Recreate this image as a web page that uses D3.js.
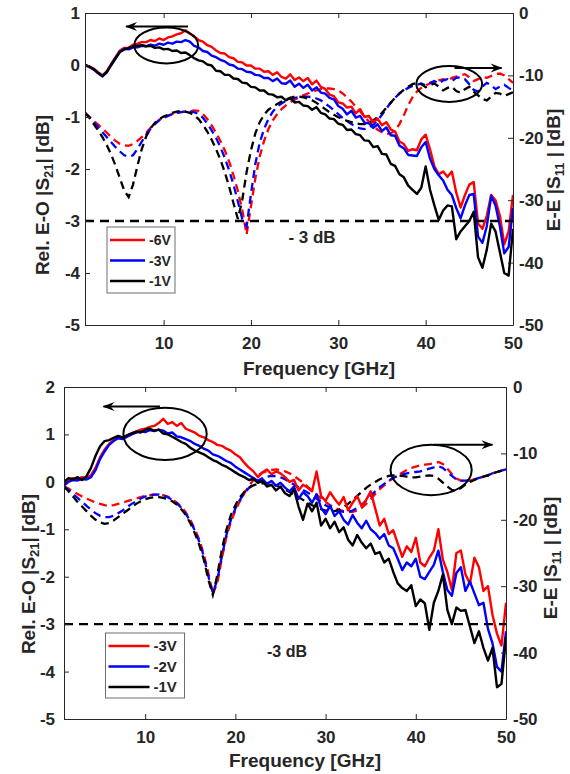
<!DOCTYPE html>
<html>
<head>
<meta charset="utf-8">
<script src="https://cdn.jsdelivr.net/npm/d3@7"></script>
<style>
  body { margin: 0; background: #fff; }
  text { font-family: "Liberation Sans", Arial, sans-serif; font-weight: bold; fill: #262626; }
</style>
</head>
<body>
<div id="chart"></div>
<script>
// frequency grid, GHz
const freq = d3.range(1, 50.001, 0.5);

const xTicks = [10, 20, 30, 40, 50];
const topLeftTicks = [1, 0, -1, -2, -3, -4, -5];
const botLeftTicks = [2, 1, 0, -1, -2, -3, -4, -5];
const rightTicks = [0, -10, -20, -30, -40, -50];

const topLegend = ["-6V", "-3V", "-1V"];
const botLegend = ["-3V", "-2V", "-1V"];
const colors = ["#ff0000", "#0000ff", "#000000"];

// ---- top panel, relative E-O |S21| (dB), left axis
const topS21Red = [
  0.00, -0.03, -0.07, -0.14, -0.20, -0.12, 0.02, 0.15, 0.28, 0.33,
  0.33, 0.39, 0.41, 0.44, 0.44, 0.48, 0.46, 0.51, 0.48, 0.53,
  0.55, 0.59, 0.61, 0.67, 0.60, 0.55, 0.48, 0.45, 0.38, 0.35,
  0.28, 0.23, 0.22, 0.15, 0.13, 0.06, 0.05, -0.01, -0.01, -0.07,
  -0.07, -0.13, -0.12, -0.19, -0.14, -0.23, -0.26, -0.18, -0.29, -0.24,
  -0.31, -0.25, -0.37, -0.30, -0.42, -0.46, -0.57, -0.60, -0.72, -0.74,
  -0.82, -0.80, -0.93, -0.85, -1.00, -0.98, -1.10, -1.03, -1.16, -1.10,
  -1.24, -1.28, -1.47, -1.52, -1.65, -1.62, -1.64, -1.43, -1.34, -1.62,
  -1.95, -2.10, -2.05, -2.15, -2.05, -2.45, -2.74, -2.50, -2.30, -2.25,
  -3.05, -3.15, -2.90, -2.50, -2.60, -2.90, -3.45, -3.20, -2.50
];
const topS21Blue = [
  0.00, -0.04, -0.09, -0.16, -0.22, -0.14, 0.00, 0.13, 0.26, 0.31,
  0.30, 0.34, 0.34, 0.37, 0.36, 0.39, 0.37, 0.41, 0.39, 0.43,
  0.41, 0.45, 0.44, 0.48, 0.45, 0.37, 0.34, 0.27, 0.25, 0.18,
  0.15, 0.10, 0.07, 0.01, -0.01, -0.07, -0.08, -0.13, -0.14, -0.19,
  -0.20, -0.25, -0.25, -0.31, -0.26, -0.35, -0.36, -0.30, -0.42, -0.36,
  -0.44, -0.38, -0.49, -0.43, -0.53, -0.55, -0.63, -0.66, -0.79, -0.84,
  -0.95, -0.88, -1.01, -0.98, -1.11, -1.12, -1.21, -1.14, -1.27, -1.20,
  -1.35, -1.36, -1.55, -1.60, -1.73, -1.74, -1.75, -1.58, -1.48, -1.80,
  -2.00, -2.12, -2.22, -2.40, -2.50, -2.75, -2.95, -2.70, -2.50, -2.48,
  -3.30, -3.42, -3.10, -2.52, -2.70, -3.10, -3.62, -3.50, -2.75
];
const topS21Black = [
  0.00, -0.03, -0.08, -0.15, -0.21, -0.13, 0.00, 0.13, 0.25, 0.30,
  0.33, 0.36, 0.37, 0.38, 0.36, 0.37, 0.33, 0.34, 0.30, 0.31,
  0.27, 0.28, 0.23, 0.24, 0.19, 0.13, 0.09, 0.07, 0.01, -0.01,
  -0.11, -0.12, -0.19, -0.19, -0.26, -0.27, -0.34, -0.35, -0.42, -0.43,
  -0.49, -0.49, -0.56, -0.57, -0.62, -0.61, -0.68, -0.63, -0.72, -0.71,
  -0.78, -0.79, -0.86, -0.81, -0.92, -0.95, -1.03, -1.04, -1.13, -1.15,
  -1.25, -1.24, -1.33, -1.35, -1.45, -1.46, -1.58, -1.56, -1.71, -1.72,
  -1.90, -1.94, -2.10, -2.16, -2.32, -2.40, -2.48, -2.36, -1.95, -2.40,
  -2.70, -2.98, -2.80, -2.70, -2.72, -3.35, -3.20, -3.10, -3.00, -2.82,
  -3.70, -3.90, -3.55, -3.05, -3.20, -3.60, -4.00, -4.05, -3.15
];

// ---- top panel, E-E |S11| (dB), right axis
const topS11Red = [
  -16.0, -16.6, -17.3, -17.9, -18.5, -19.2, -19.9, -20.5, -21.0, -21.2,
  -21.3, -21.0, -20.5, -19.9, -19.2, -18.4, -17.7, -17.1, -16.7, -16.4,
  -16.2, -16.0, -15.9, -15.8, -15.7, -15.6, -15.7, -16.2, -17.0, -18.0,
  -19.2, -20.5, -22.0, -23.8, -26.0, -28.5, -31.5, -35.5, -31.0, -26.5,
  -23.0, -20.5, -18.6, -17.2, -16.2, -15.4, -14.8, -14.3, -13.9, -13.5,
  -13.2, -12.9, -12.6, -12.4, -12.2, -12.1, -12.1, -12.2, -12.4, -12.9,
  -13.5, -14.2, -15.0, -15.8, -16.6, -17.4, -18.1, -18.7, -19.1, -19.4,
  -19.3, -18.8, -17.8, -16.4, -14.8, -13.5, -12.6, -12.0, -11.6, -11.3,
  -11.0, -10.8, -10.6, -10.9, -10.4, -10.2, -10.0, -9.8, -10.3, -10.9,
  -10.6, -10.2, -10.4, -10.1, -9.8, -9.7, -10.0, -10.6, -11.2
];
const topS11Blue = [
  -16.0, -16.7, -17.5, -18.3, -19.1, -19.9, -20.7, -21.5, -22.2, -22.8,
  -23.0, -22.8, -21.8, -20.6, -19.5, -18.6, -17.8, -17.2, -16.8, -16.5,
  -16.2, -16.0, -15.9, -15.8, -15.8, -15.9, -16.2, -16.8, -17.7, -18.8,
  -20.0, -21.5, -23.2, -25.2, -27.5, -30.2, -33.0, -34.2, -29.0, -24.2,
  -20.8, -18.6, -17.0, -15.8, -15.0, -14.5, -14.1, -13.8, -13.6, -13.5,
  -13.4, -13.4, -13.5, -13.7, -14.0, -14.5, -15.0, -15.6, -16.2, -16.8,
  -17.3, -17.8, -18.2, -18.5, -18.6, -18.4, -17.9, -17.2, -16.3, -15.3,
  -14.4, -13.6, -12.9, -12.4, -12.0, -11.7, -11.5, -11.3, -11.6, -11.2,
  -10.9, -11.3, -10.8, -10.6, -10.9, -10.4, -10.3, -10.6, -11.4, -12.3,
  -12.6, -11.8, -11.2, -11.6, -12.2, -11.8, -11.5, -12.0, -12.4
];
const topS11Black = [
  -16.0, -16.8, -17.8, -18.8, -19.9, -21.2, -22.7, -24.5, -26.5, -28.5,
  -29.5, -27.5, -24.5, -21.8, -19.8, -18.5, -17.6, -17.0, -16.6, -16.3,
  -16.0, -15.8, -15.7, -15.8, -16.0, -16.4, -17.0, -17.9, -19.0, -20.3,
  -21.8, -23.5, -25.5, -27.8, -30.5, -33.0, -30.0, -25.5, -22.0, -19.3,
  -17.5, -16.3, -15.5, -15.0, -14.6, -14.2, -13.9, -13.6, -13.4, -13.4,
  -13.5, -13.7, -14.0, -14.4, -14.9, -15.4, -15.9, -16.3, -16.7, -17.0,
  -17.3, -17.5, -17.7, -17.8, -17.8, -17.6, -17.2, -16.7, -16.0, -15.2,
  -14.4, -13.6, -12.9, -12.3, -11.8, -11.4, -11.2, -11.4, -11.9, -11.6,
  -11.3, -11.8, -12.4, -12.0, -11.8, -12.5, -12.8, -12.2, -11.8, -12.6,
  -13.2, -13.8, -14.0, -13.4, -12.8, -12.9, -13.3, -13.0, -12.7
];

// ---- bottom panel, relative E-O |S21| (dB), left axis
const botS21Red = [
  -0.02, 0.05, 0.08, 0.06, 0.10, 0.08, 0.14, 0.30, 0.52, 0.68,
  0.80, 0.88, 0.94, 0.92, 0.98, 1.02, 1.06, 1.10, 1.12, 1.16,
  1.18, 1.24, 1.33, 1.22, 1.26, 1.18, 1.24, 1.12, 1.08, 1.04,
  0.97, 0.94, 0.88, 0.84, 0.78, 0.76, 0.70, 0.66, 0.58, 0.52,
  0.40, 0.30, 0.22, 0.10, 0.20, 0.26, 0.16, 0.22, 0.18, 0.10,
  0.00, 0.04, -0.18, -0.06, -0.12, -0.20, 0.22, -0.30, -0.40, -0.22,
  -0.36, -0.48, -0.32, -0.60, -0.44, -0.30, -0.52, -0.38, -0.20, -0.56,
  -0.92, -0.78, -1.10, -1.02, -1.30, -1.58, -1.36, -1.48, -1.18, -1.70,
  -1.78, -1.60, -1.45, -1.00, -1.64, -1.90, -2.28, -1.50, -1.45, -1.95,
  -2.15, -1.60, -1.80, -2.30, -2.20, -2.80, -3.20, -3.45, -2.55
];
const botS21Blue = [
  -0.08, 0.00, 0.04, 0.03, 0.06, 0.05, 0.10, 0.25, 0.48, 0.64,
  0.78, 0.86, 0.92, 0.90, 0.95, 1.00, 1.04, 1.06, 1.05, 1.09,
  1.07, 1.10, 1.08, 1.02, 1.04, 0.96, 0.94, 0.90, 0.86, 0.80,
  0.76, 0.70, 0.66, 0.58, 0.55, 0.50, 0.44, 0.40, 0.32, 0.26,
  0.20, 0.14, 0.08, 0.02, 0.06, -0.04, 0.02, -0.08, -0.02, -0.12,
  -0.20, -0.10, -0.36, -0.22, -0.30, -0.44, -0.26, -0.55, -0.68, -0.50,
  -0.72, -0.62, -0.80, -0.90, -0.70, -0.86, -0.98, -0.82, -1.00, -1.08,
  -1.20, -1.10, -1.34, -1.40, -1.62, -1.86, -1.70, -1.78, -1.62, -2.00,
  -2.05, -1.90, -1.75, -1.45, -1.90, -2.28, -2.40, -1.92, -1.80, -2.30,
  -2.10, -2.35, -2.60, -2.55, -3.10, -3.40, -3.90, -4.00, -3.15
];
const botS21Black = [
  0.00, 0.08, 0.05, 0.10, 0.04, 0.12, 0.30, 0.55, 0.75, 0.86,
  0.88, 0.93, 0.97, 0.94, 0.98, 1.02, 1.06, 1.04, 1.10, 1.12,
  1.08, 1.10, 1.02, 1.00, 0.95, 0.90, 0.84, 0.80, 0.72, 0.66,
  0.62, 0.58, 0.52, 0.46, 0.42, 0.36, 0.32, 0.26, 0.20, 0.14,
  0.10, 0.04, 0.06, -0.02, 0.02, -0.10, -0.06, -0.18, -0.10, -0.24,
  -0.30, -0.16, -0.52, -0.80, -0.46, -0.62, -0.44, -0.92, -0.78, -0.98,
  -0.84, -1.06, -0.96, -1.22, -1.34, -1.12, -1.28, -1.40, -1.30, -1.52,
  -1.48, -1.70, -1.62, -1.90, -2.14, -2.24, -2.30, -2.18, -2.62, -2.48,
  -2.56, -3.12, -2.55, -2.30, -1.95, -2.70, -3.00, -2.65, -2.72, -2.70,
  -3.05, -3.40, -3.15, -3.50, -3.77, -3.50, -4.33, -4.26, -3.28
];

// ---- bottom panel, E-E |S11| (dB), right axis
const botS11Red = [
  -15.0, -15.3, -15.7, -16.1, -16.5, -16.8, -17.1, -17.4, -17.6, -17.8,
  -17.9, -17.8, -17.6, -17.4, -17.2, -17.0, -16.8, -16.6, -16.4, -16.3,
  -16.2, -16.2, -16.3, -16.5, -16.9, -17.4, -18.0, -18.9, -20.0, -21.4,
  -23.0, -25.2, -28.0, -31.2, -29.5, -25.8, -22.6, -20.3, -18.6, -17.2,
  -16.0, -14.9, -14.0, -13.3, -12.9, -12.7, -12.5, -12.4, -12.5, -12.7,
  -13.0, -13.4, -13.9, -14.4, -15.0, -15.6, -16.2, -16.8, -17.3, -17.8,
  -18.2, -18.5, -18.7, -18.8, -18.8, -18.6, -18.2, -17.6, -16.9, -16.1,
  -15.4, -14.8, -14.2, -13.7, -13.3, -12.9, -12.5, -12.2, -12.0, -11.8,
  -11.7, -11.6, -11.5, -11.3, -11.6, -12.3, -13.1, -13.8, -14.1, -14.2,
  -14.1, -13.9, -13.7, -13.5, -13.3, -13.0, -12.8, -12.6, -12.4
];
const botS11Blue = [
  -15.0, -15.5, -16.1, -16.7, -17.3, -17.9, -18.5, -19.0, -19.4, -19.6,
  -19.6, -19.4, -19.0, -18.6, -18.1, -17.6, -17.2, -16.8, -16.5, -16.3,
  -16.2, -16.2, -16.3, -16.6, -17.0, -17.5, -18.2, -19.1, -20.2, -21.6,
  -23.3, -25.5, -28.5, -31.0, -29.0, -25.5, -22.3, -20.0, -18.3, -17.0,
  -16.0, -15.2, -14.6, -14.1, -13.7, -13.5, -13.4, -13.4, -13.6, -13.9,
  -14.3, -14.7, -15.1, -15.5, -15.9, -16.3, -16.8, -17.3, -17.8, -18.2,
  -18.5, -18.7, -18.8, -18.8, -18.6, -18.2, -17.7, -17.1, -16.4, -15.7,
  -15.1, -14.6, -14.1, -13.7, -13.4, -13.2, -13.0, -12.9, -12.8, -12.7,
  -12.5, -12.3, -12.1, -11.9, -12.2, -12.8, -13.4, -13.9, -14.1, -14.1,
  -14.0, -13.9, -13.7, -13.5, -13.3, -13.0, -12.8, -12.6, -12.4
];
const botS11Black = [
  -15.0, -15.7, -16.5, -17.3, -18.0, -18.7, -19.4, -20.0, -20.4, -20.6,
  -20.5, -20.1, -19.6, -19.1, -18.6, -18.1, -17.6, -17.2, -16.9, -16.7,
  -16.6, -16.6, -16.7, -16.9, -17.2, -17.7, -18.4, -19.3, -20.5, -22.0,
  -23.8, -26.0, -29.0, -31.3, -28.3, -24.5, -21.5, -19.3, -17.8, -16.6,
  -15.8, -15.2, -14.8, -14.6, -14.5, -14.5, -14.6, -14.8, -15.1, -15.4,
  -15.8, -16.2, -16.6, -17.0, -17.4, -17.8, -18.1, -18.4, -18.6, -18.7,
  -18.7, -18.5, -18.1, -17.6, -17.0, -16.4, -15.8, -15.2, -14.7, -14.3,
  -13.9, -13.6, -13.4, -13.3, -13.3, -13.4, -13.5, -13.6, -13.6, -13.5,
  -13.4, -13.3, -13.4, -13.8, -14.4, -15.0, -15.5, -15.6, -15.2, -14.7,
  -14.3, -14.0, -13.7, -13.5, -13.3, -13.0, -12.8, -12.6, -12.4
];

const W = 570, H = 774;
const svg = d3.select("#chart").append("svg")
  .attr("width", W).attr("height", H)
  .style("background", "#fff");

const defs = svg.append("defs");
defs.append("marker")
  .attr("id", "head")
  .attr("viewBox", "0 0 12 10")
  .attr("refX", 11).attr("refY", 5)
  .attr("markerWidth", 13).attr("markerHeight", 10)
  .attr("markerUnits", "userSpaceOnUse")
  .attr("orient", "auto")
  .append("path")
  .attr("d", "M0,0.5 L12,5 L0,9.5 L4,5 Z")
  .attr("fill", "#000");

function yLabel(g, x, y, pre, sub, post) {
  const t = g.append("text")
    .attr("transform", `translate(${x},${y}) rotate(-90)`)
    .attr("text-anchor", "middle")
    .attr("font-size", 19)
    .attr("y", 7);
  t.append("tspan").text(pre);
  t.append("tspan").attr("font-size", 13).attr("dy", 4).text(sub);
  t.append("tspan").attr("dy", -4).text(post);
}

function drawPanel(p, id) {
  const x = d3.scaleLinear().domain([1, 50]).range([p.left, p.right]);
  const yL = d3.scaleLinear().domain(p.yDomain).range([p.bottom, p.top]);
  const yR = d3.scaleLinear().domain([-50, 0]).range([p.bottom, p.top]);

  const g = svg.append("g");

  defs.append("clipPath").attr("id", "clip" + id)
    .append("rect")
    .attr("x", p.left).attr("y", p.top)
    .attr("width", p.right - p.left).attr("height", p.bottom - p.top);

  const plot = g.append("g").attr("clip-path", `url(#clip${id})`);

  const lineR = d3.line().x((d, i) => x(freq[i])).y(d => yR(d));
  const lineL = d3.line().x((d, i) => x(freq[i])).y(d => yL(d));

  // S11, dashed, right axis
  p.s11.forEach((s, i) => {
    plot.append("path").datum(s)
      .attr("d", lineR)
      .attr("fill", "none")
      .attr("stroke", colors[i])
      .attr("stroke-width", 2.3)
      .attr("stroke-dasharray", "8,5");
  });

  // S21, solid, left axis
  p.s21.forEach((s, i) => {
    plot.append("path").datum(s)
      .attr("d", lineL)
      .attr("fill", "none")
      .attr("stroke", colors[i])
      .attr("stroke-width", 2.4)
      .attr("stroke-linejoin", "round");
  });

  // -3 dB reference
  plot.append("line")
    .attr("x1", x(1)).attr("x2", x(50))
    .attr("y1", yL(-3)).attr("y2", yL(-3))
    .attr("stroke", "#000").attr("stroke-width", 2.3)
    .attr("stroke-dasharray", "9,6");

  g.append("text")
    .attr("x", p.dbText.x).attr("y", p.dbText.y)
    .attr("text-anchor", "middle")
    .attr("font-size", p.dbText.size)
    .text(p.dbText.label);

  // ellipses and arrows
  p.ellipses.forEach(e => {
    g.append("ellipse")
      .attr("cx", x(e.f)).attr("cy", yL(e.v))
      .attr("rx", x(e.f + e.rf) - x(e.f))
      .attr("ry", yL(e.v - e.rv) - yL(e.v))
      .attr("fill", "none").attr("stroke", "#000").attr("stroke-width", 2);
  });
  p.arrows.forEach(a => {
    g.append("line")
      .attr("x1", x(a.f0)).attr("x2", x(a.f1))
      .attr("y1", yL(a.v)).attr("y2", yL(a.v))
      .attr("stroke", "#000").attr("stroke-width", 2)
      .attr("marker-end", "url(#head)");
  });

  const style = sel => sel
    .attr("font-size", 17)
    .attr("font-family", "Liberation Sans, Arial, sans-serif")
    .attr("font-weight", "bold")
    .attr("color", "#262626")
    .call(s => s.selectAll("path,line").attr("stroke-width", 1));

  // axes (ticks point inward)
  g.append("g").attr("transform", `translate(0,${p.bottom})`)
    .call(d3.axisBottom(x).tickValues(xTicks).tickSize(-5).tickSizeOuter(0)
      .tickPadding(12).tickFormat(d => String(d)))
    .call(style);
  g.append("g").attr("transform", `translate(0,${p.top})`)
    .call(d3.axisTop(x).tickValues(xTicks).tickSize(-5).tickSizeOuter(0)
      .tickFormat(""))
    .call(style);
  g.append("g").attr("transform", `translate(${p.left},0)`)
    .call(d3.axisLeft(yL).tickValues(p.yTicks).tickSize(-5).tickSizeOuter(0)
      .tickPadding(p.padL).tickFormat(d => String(d)))
    .call(style);
  g.append("g").attr("transform", `translate(${p.right},0)`)
    .call(d3.axisRight(yR).tickValues(rightTicks).tickSize(-5).tickSizeOuter(0)
      .tickPadding(p.padR).tickFormat(d => String(d)))
    .call(style);

  g.append("text")
    .attr("x", (p.left + p.right) / 2 + p.xLabelShift).attr("y", p.xLabelY)
    .attr("text-anchor", "middle")
    .attr("font-size", 19)
    .text("Frequency [GHz]");

  yLabel(g, p.labL.x, p.labL.y, "Rel. E-O |S", "21", "| [dB]");
  yLabel(g, p.labR.x, p.labR.y, "E-E |S", "11", " | [dB]");

  // legend
  const L = p.legend;
  const lg = g.append("g");
  lg.append("rect")
    .attr("x", L.x).attr("y", L.y).attr("width", L.w).attr("height", L.h)
    .attr("fill", "#fff").attr("stroke", "#6e6e6e").attr("stroke-width", 1);
  p.names.forEach((n, i) => {
    const yy = L.y + L.first + i * L.step;
    lg.append("line")
      .attr("x1", L.x + 3).attr("x2", L.x + 3 + L.len)
      .attr("y1", yy).attr("y2", yy)
      .attr("stroke", colors[i]).attr("stroke-width", 2.5);
    lg.append("text")
      .attr("x", L.x + 7 + L.len).attr("y", yy).attr("dy", "0.36em")
      .attr("font-size", L.size)
      .text(n);
  });
}

drawPanel({
  left: 85, right: 513, top: 13, bottom: 325,
  yDomain: [-5, 1], yTicks: topLeftTicks, padL: 5, padR: 6,
  s21: [topS21Red, topS21Blue, topS21Black],
  s11: [topS11Red, topS11Blue, topS11Black],
  names: topLegend,
  xLabelY: 375, xLabelShift: 20,
  labL: { x: 42, y: 195 }, labR: { x: 553, y: 170 },
  dbText: { x: 312, y: 243, size: 17, label: "- 3 dB" },
  legend: { x: 107, y: 227, w: 68, h: 66, first: 13, step: 20.5, len: 35, size: 14 },
  ellipses: [{ f: 10.3, v: 0.377, rf: 3.66, rv: 0.346 }, { f: 42.7, v: -0.365, rf: 3.77, rv: 0.346 }],
  arrows: [{ f0: 12.8, f1: 5.7, v: 0.74 }, { f0: 43.3, f1: 48.7, v: -0.058 }]
}, "top");

drawPanel({
  left: 64, right: 506, top: 387, bottom: 719,
  yDomain: [-5, 2], yTicks: botLeftTicks, padL: 9, padR: 7,
  s21: [botS21Red, botS21Blue, botS21Black],
  s11: [botS11Red, botS11Blue, botS11Black],
  names: botLegend,
  xLabelY: 767, xLabelShift: 20,
  labL: { x: 28, y: 574 }, labR: { x: 550, y: 558 },
  dbText: { x: 287, y: 657, size: 16, label: "-3 dB" },
  legend: { x: 105.5, y: 633, w: 79, h: 65, first: 13, step: 20.5, len: 41, size: 15 },
  ellipses: [{ f: 12.2, v: 1.01, rf: 4.62, rv: 0.55 }, { f: 41.7, v: 0.25, rf: 4.5, rv: 0.53 }],
  arrows: [{ f0: 11.64, f1: 5.38, v: 1.59 }, { f0: 42.0, f1: 48.5, v: 0.78 }]
}, "bot");
</script>
</body>
</html>
